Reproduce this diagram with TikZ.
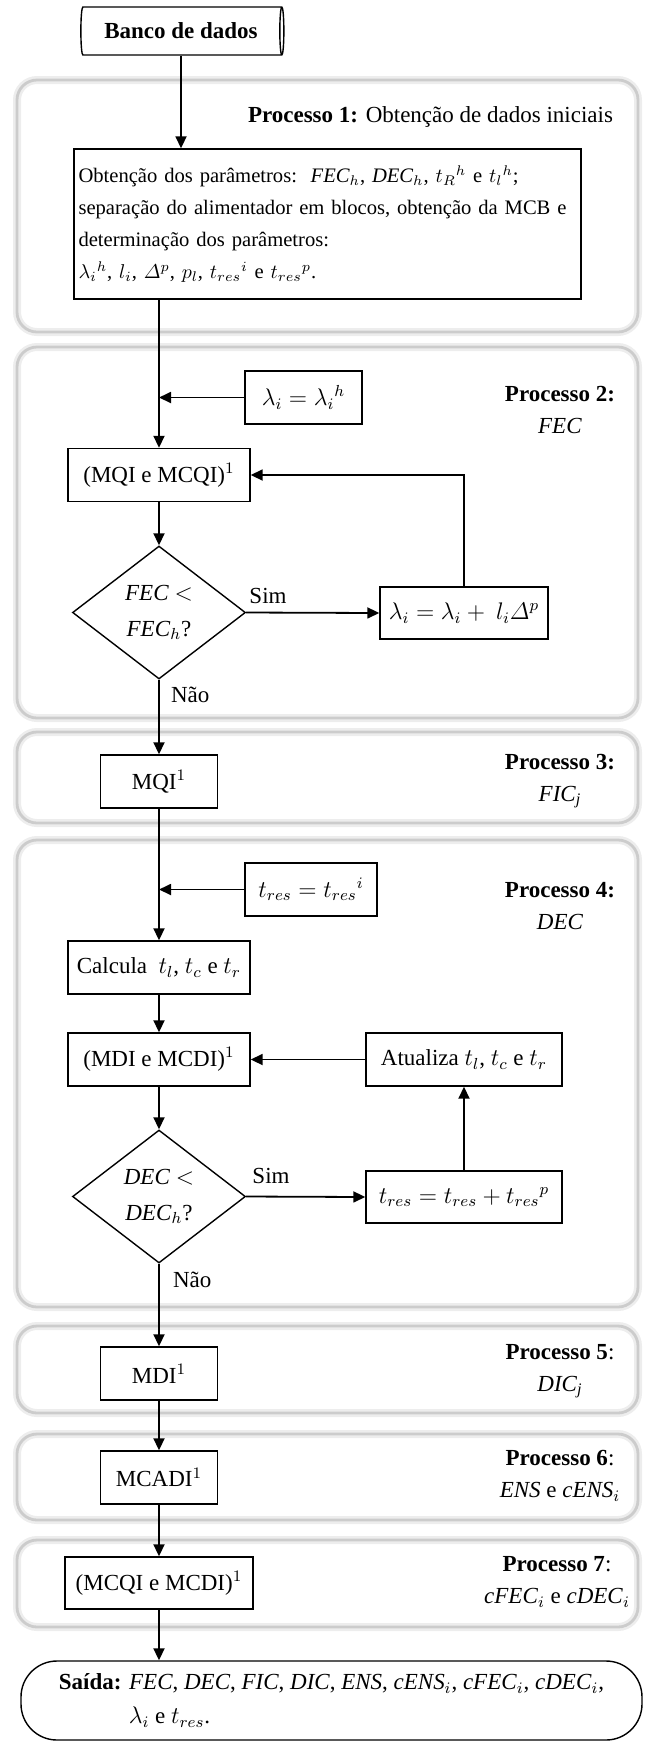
\documentclass[tikz,border=0pt]{standalone}
\usepackage{amsmath}
\usepackage{fontspec}
\setmainfont{Liberation Serif}
\usetikzlibrary{arrows.meta,positioning,shapes.geometric}

\begin{document}
\begin{tikzpicture}[x=0.5pt,y=-0.5pt,>={Triangle[length=6pt,width=5.5pt]},
 font=\fontsize{11.5}{14}\selectfont,
 panel/.style={draw=black!20,line width=1.4pt,rounded corners=10pt,preaction={draw=black!7,line width=4pt}},
 box/.style={draw,line width=0.7pt,align=center,inner sep=2pt,minimum height=26.5pt},
 cond/.style={draw,diamond,line width=0.7pt,align=center,inner sep=0pt,minimum width=86.5pt,minimum height=66.5pt,font=\fontsize{11.5}{18}\selectfont},
 proc/.style={align=center,font=\fontsize{11.5}{16}\selectfont},
 flow/.style={->,line width=0.9pt}]
\useasboundingbox (0,0) rectangle (647,1742);

% blocos de fundo
\draw[panel] (17,80) rectangle (638,332);
\draw[panel] (17,347) rectangle (638,718);
\draw[panel] (17,732) rectangle (638,823);
\draw[panel] (17,840) rectangle (638,1307);
\draw[panel] (17,1326) rectangle (638,1413);
\draw[panel] (17,1434) rectangle (638,1520);
\draw[panel] (17,1540) rectangle (638,1627);

\node[draw,cylinder,line width=0.7pt,aspect=0.25,minimum height=101.5pt,minimum width=24pt,inner sep=0pt,font=\fontsize{11.5}{14}\selectfont\bfseries] (db) at (181,31) {Banco de dados};

% processo 1
\node[proc,anchor=east] (t1) at (620,117) {\textbf{Processo 1:} Obtenção de dados iniciais};
\node[box,align=left,text width=249pt,inner xsep=2.25pt,minimum height=75pt,font=\fontsize{10.3}{16}\selectfont] (p1) at (327.5,224) {Obtenção dos parâmetros:\ \ $\mathit{FEC}_h$, $\mathit{DEC}_h$, $t_R{}^h$ e $t_l{}^h$;\\
separação do alimentador em blocos, obtenção da MCB e\\
determinação dos parâmetros:\\
$\lambda_i{}^h$, $l_i$, $\varDelta^p$, $p_l$, $t_{res}{}^i$ e $t_{res}{}^p$.};

% processo 2
\node[proc] (t2) at (560,410) {\textbf{Processo 2:}\\\textit{FEC}};
\node[box,minimum width=58.5pt] (l0) at (303.5,397.5) {$\lambda_i = \lambda_i{}^h$};
\node[box,minimum width=91pt] (q1) at (159,475) {(MQI e MCQI)$^1$};
\node[cond] (c1) at (159,612.5) {\textit{FEC} $<$\\\textit{FEC}$_h$?};
\node[box,minimum width=84pt,minimum height=26pt] (l1) at (464,613) {$\lambda_i = \lambda_i +\ l_i\varDelta^p$};
\node (s1) at (268,596) {Sim};
\node[anchor=west] (n1) at (164,695) {Não};

% processo 3
\node[proc] (t3) at (560,781) {\textbf{Processo 3:}\\\textit{FIC\textsubscript{j}}};
\node[box,minimum width=58.5pt] (m1) at (159,781.5) {MQI$^1$};

% processo 4
\node[proc] (t4) at (560,906) {\textbf{Processo 4:}\\\textit{DEC}};
\node[box,minimum width=66pt] (r0) at (311,889.5) {$t_{res} = t_{res}{}^i$};
\node[box,minimum width=91pt] (cc) at (159,967.5) {Calcula\ \ $t_l$, $t_c$ e $t_r$};
\node[box,minimum width=91pt] (d1) at (159,1059.5) {(MDI e MCDI)$^1$};
\node[box,minimum width=98pt] (at) at (464,1059.5) {Atualiza $t_l$, $t_c$ e $t_r$};
\node[cond] (c2) at (159,1196.5) {\textit{DEC} $<$\\\textit{DEC}$_h$?};
\node[box,minimum width=98pt,minimum height=26pt] (r1) at (464,1197) {$t_{res} = t_{res} + t_{res}{}^p$};
\node (s2) at (271,1176) {Sim};
\node[anchor=west] (n2) at (166,1280) {Não};

% processos 5, 6 e 7
\node[proc] (t5) at (560,1371) {\textbf{Processo 5}:\\\textit{DIC\textsubscript{j}}};
\node[box,minimum width=58.5pt] (m2) at (159,1373.5) {MDI$^1$};
\node[proc] (t6) at (560,1476) {\textbf{Processo 6}:\\\textit{ENS} e \textit{cENS}$_i$};
\node[box,minimum width=58.5pt] (m3) at (159,1477.5) {MCADI$^1$};
\node[proc] (t7) at (557,1582) {\textbf{Processo 7}:\\\textit{cFEC}$_i$ e \textit{cDEC}$_i$};
\node[box,minimum width=94pt,minimum height=26pt] (m4) at (159,1583) {(MCQI e MCDI)$^1$};

% saida
\node[draw,line width=0.7pt,rounded corners=18pt,align=left,minimum width=310.5pt,minimum height=39.5pt,font=\fontsize{11.5}{17}\selectfont] (out) at (331.5,1700.5) {\textbf{Saída:} \textit{FEC}, \textit{DEC}, \textit{FIC}, \textit{DIC}, \textit{ENS}, \textit{cENS}$_i$, \textit{cFEC}$_i$, \textit{cDEC}$_i$,\\
\hspace*{35pt}$\lambda_i$ e $t_{res}$.};

\draw[flow] (db.south) -- (db.south |- p1.north);
\draw[flow] (p1.south -| q1.north) -- (q1.north);
\draw[flow] (l0.west) -- (l0.west -| q1.north);
\draw[flow] (q1) -- (c1);
\draw[flow] (c1.east) -- (l1.west);
\draw[flow] (l1.north) |- (q1.east);
\draw[flow] (c1.south) -- (m1.north);
\draw[flow] (m1) -- (cc);
\draw[flow] (r0.west) -- (r0.west -| cc.north);
\draw[flow] (cc) -- (d1);
\draw[flow] (d1) -- (c2);
\draw[flow] (c2.east) -- (r1.west);
\draw[flow] (r1) -- (at);
\draw[flow] (at) -- (d1);
\draw[flow] (c2.south) -- (m2.north);
\draw[flow] (m2) -- (m3);
\draw[flow] (m3) -- (m4);
\draw[flow] (m4.south) -- (m4.south |- out.north);
\end{tikzpicture}
\end{document}
